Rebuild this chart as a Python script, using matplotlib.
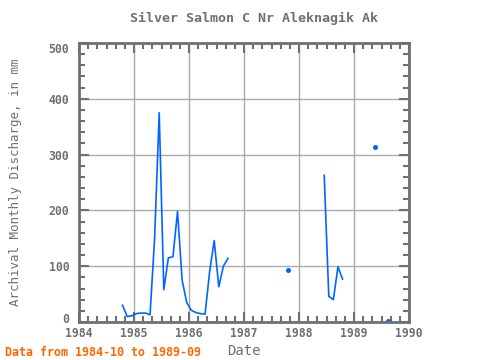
import numpy as np
import pandas as pd
import matplotlib
matplotlib.use('Agg')
import matplotlib.pyplot as plt
import matplotlib.transforms as mtransforms
from matplotlib.ticker import MultipleLocator, FixedLocator

# Monthly values, 1984-10 .. 1989-09 (nan = missing)
months = pd.date_range('1984-10-01', '1989-09-01', freq='MS')
nan = np.nan
discharge = [
    30, 10, 11,                                              # 1984 Oct-Dec
    15, 16, 16, 13, 150, 375, 58, 115, 117, 198, 75, 35,     # 1985
    21, 17, 15, 14, 90, 146, 63, 100, 114, nan, nan, nan,    # 1986
    nan, nan, nan, nan, nan, nan, nan, nan, nan, 93, nan, nan,  # 1987
    nan, nan, nan, nan, nan, 263, 46, 40, 99, 77, nan, nan,  # 1988
    nan, nan, nan, nan, 314, nan, nan, 1, nan,               # 1989 Jan-Sep
]
y_ticks = [0, 100, 200, 300, 400, 500]

x = months.year + (months.month - 0.5) / 12.0
y = np.array(discharge, dtype=float)

# points with no neighbour get a marker
ok = ~np.isnan(y)
prev_ok = np.r_[False, ok[:-1]]
next_ok = np.r_[ok[1:], False]
lonely = ok & ~prev_ok & ~next_ok

plt.rcParams['font.family'] = ['DejaVu Sans Mono']
plt.rcParams['font.weight'] = 'bold'
grey = '#707070'

fig = plt.figure(figsize=(4.8, 3.6), dpi=100)
ax = fig.add_axes([79/480, 1 - 322/360, 330/480, 279/360])

ax.plot(x, y, color='#0066ff', lw=1.2)
ax.plot(x[lonely], y[lonely], 'o', color='#0066ff', ms=2.6)

ax.set_xlim(1984, 1990)
ax.set_ylim(0, 500)
ax.xaxis.set_major_locator(MultipleLocator(1))
ax.xaxis.set_minor_locator(MultipleLocator(1/6))
ax.yaxis.set_major_locator(FixedLocator(y_ticks))
ax.yaxis.set_minor_locator(MultipleLocator(20))
ax.grid(True, which='major', color='#aaaaaa', lw=1)
ax.tick_params(which='both', direction='in', top=True, right=True,
               colors=grey, labelcolor=grey, labelsize=8.3, width=1.5)
ax.tick_params(which='major', length=7)
ax.tick_params(axis='y', which='major', pad=7)
ax.tick_params(which='minor', length=4)
for s in ax.spines.values():
    s.set_color(grey)
    s.set_linewidth(2)

ax.set_xlabel('Date', color=grey, fontsize=10, labelpad=3)
ax.set_ylabel('Archival Monthly Discharge, in mm', color=grey, fontsize=9)
ax.yaxis.set_label_coords((23 - 80) / 330, 0.5)
fig.text(254/480, 1 - 18/360, 'Silver Salmon C Nr Aleknagik Ak', ha='center', va='center',
         color=grey, fontsize=9.6)
fig.text(5/480, 1 - 352/360, 'Data from 1984-10 to 1989-09', ha='left', va='center',
         color='#ff6600', fontsize=8.4)

# end labels are pulled inside the axis range
fig.canvas.draw()
for tick in ax.yaxis.get_major_ticks():
    shift = {0: 4, 500: -5}.get(tick.get_loc(), 0)
    if shift:
        tick.label1.set_transform(tick.label1.get_transform() +
                                  mtransforms.ScaledTranslation(0, shift/100, fig.dpi_scale_trans))

fig.savefig('out.png', dpi=100)
